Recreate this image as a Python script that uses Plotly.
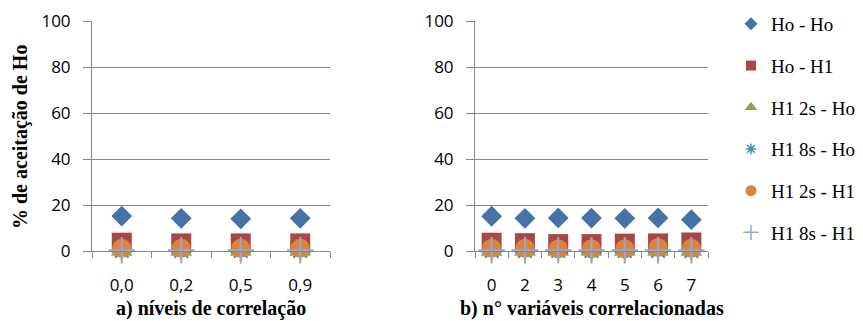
import plotly.graph_objects as go

# Category labels for the two panels
cats_a = ["0,0", "0,2", "0,5", "0,9"]
cats_b = ["0", "2", "3", "4", "5", "6", "7"]

# % de aceitação de Ho per scenario
ho_ho_a = [15.2, 14.2, 14.0, 14.2]
ho_h1_a = [3.6, 3.3, 3.3, 3.3]
h1_2s_ho_a = [0.0, 0.0, 0.0, 0.0]
h1_8s_ho_a = [0.0, 0.0, 0.0, 0.0]
h1_2s_h1_a = [1.2, 1.2, 1.2, 1.2]
h1_8s_h1_a = [0.3, 0.3, 0.3, 0.3]

ho_ho_b = [15.1, 14.2, 14.4, 14.3, 14.2, 14.4, 13.6]
ho_h1_b = [3.6, 3.4, 3.0, 3.0, 3.2, 3.3, 3.7]
h1_2s_ho_b = [0.0, 0.0, 0.0, 0.0, 0.0, 0.0, 0.0]
h1_8s_ho_b = [0.0, 0.0, 0.0, 0.0, 0.0, 0.0, 0.0]
h1_2s_h1_b = [1.2, 1.2, 1.0, 1.0, 1.0, 1.5, 1.2]
h1_8s_h1_b = [0.3, 0.3, 0.3, 0.3, 0.3, 0.3, 0.3]

series_names = ["Ho - Ho", "Ho - H1", "H1 2s - Ho", "H1 8s - Ho", "H1 2s - H1", "H1 8s - H1"]
y_title = "% de aceitação de Ho"
title_a = "a) níveis de correlação"
title_b = "b) n° variáveis correlacionadas"

# marker styling: (symbol, colour, size, line width)
styles = [
    ("diamond", "#4572A7", 16, 0),
    ("square", "#AA4643", 20, 0),
    ("triangle-up", "#89A54E", 19, 0),
    ("asterisk-open", "#3D96AE", 16, 2),
    ("circle", "#DB843D", 19, 0),
    ("cross-thin-open", "#93A9CF", 19, 2),
]
legend_sizes = [10, 10, 11, 9, 11, 11]

data_a = [ho_ho_a, ho_h1_a, h1_2s_ho_a, h1_8s_ho_a, h1_2s_h1_a, h1_8s_h1_a]
data_b = [ho_ho_b, ho_h1_b, h1_2s_ho_b, h1_8s_ho_b, h1_2s_h1_b, h1_8s_h1_b]

fig = go.Figure()

for (sym, col, size, lw), ya, yb in zip(styles, data_a, data_b):
    marker = dict(symbol=sym, color=col, size=size, line=dict(color=col, width=lw))
    fig.add_trace(go.Scatter(x=cats_a, y=ya, mode="markers", marker=marker,
                             xaxis="x", yaxis="y", showlegend=False, cliponaxis=False))
    fig.add_trace(go.Scatter(x=cats_b, y=yb, mode="markers", marker=marker,
                             xaxis="x2", yaxis="y2", showlegend=False, cliponaxis=False))

# legend entries with small symbols
for i, ((sym, col, size, lw), name) in enumerate(zip(styles, series_names)):
    fig.add_trace(go.Scatter(
        x=[None], y=[None], mode="markers", name=name, legendgroup=f"g{i}",
        marker=dict(symbol=sym, color=col, size=legend_sizes[i],
                    line=dict(color=col, width=1.5 if lw else 0)),
        xaxis="x", yaxis="y",
    ))

W, H = 863, 321
grid_col = "#868686"
tick_font = dict(family="Open Sans", size=17, color="black")
title_font = dict(family="Liberation Serif", size=20, color="black")

def xaxis(dom, n):
    return dict(domain=dom, type="category", range=[-0.5, n - 0.5],
                showgrid=False, showline=True, linecolor=grid_col, linewidth=1,
                ticks="outside", tickson="boundaries", ticklen=6, tickcolor=grid_col,
                tickfont=tick_font, ticklabelstandoff=19, zeroline=False, fixedrange=True)

def yaxis(anchor):
    return dict(domain=[70 / H, 300 / H], anchor=anchor, range=[0, 100],
                tickvals=[0, 20, 40, 60, 80, 100], showgrid=True, gridcolor=grid_col,
                gridwidth=1, showline=True, linecolor=grid_col, linewidth=1,
                ticks="outside", ticklen=8, tickcolor=grid_col, tickfont=tick_font,
                ticklabelstandoff=9, zeroline=False, fixedrange=True)

fig.update_layout(
    width=W, height=H,
    margin=dict(l=0, r=0, t=0, b=0, autoexpand=False),
    paper_bgcolor="white", plot_bgcolor="white",
    xaxis=dict(xaxis([92 / W, 330 / W], len(cats_a)), anchor="y"),
    yaxis=yaxis("x"),
    xaxis2=dict(xaxis([475 / W, 708 / W], len(cats_b)), anchor="y2"),
    yaxis2=yaxis("x2"),
    legend=dict(x=731 / W, y=1 - 5 / H, xanchor="left", yanchor="top",
                font=dict(family="Liberation Serif", size=19, color="black"),
                tracegroupgap=14, traceorder="grouped", bgcolor="rgba(0,0,0,0)"),
    annotations=[
        dict(text=f"<b>{y_title}</b>", x=21 / W, y=1 - 137 / H, xref="paper", yref="paper",
             xanchor="center", yanchor="middle", textangle=-90, showarrow=False,
             font=title_font),
        dict(text=f"<b>{title_a}</b>", x=211 / W, y=1 - 308 / H, xref="paper", yref="paper",
             xanchor="center", yanchor="middle", showarrow=False, font=title_font),
        dict(text=f"<b>{title_b}</b>", x=592 / W, y=1 - 308 / H, xref="paper", yref="paper",
             xanchor="center", yanchor="middle", showarrow=False, font=title_font),
    ],
)

fig.write_html("out.html")
